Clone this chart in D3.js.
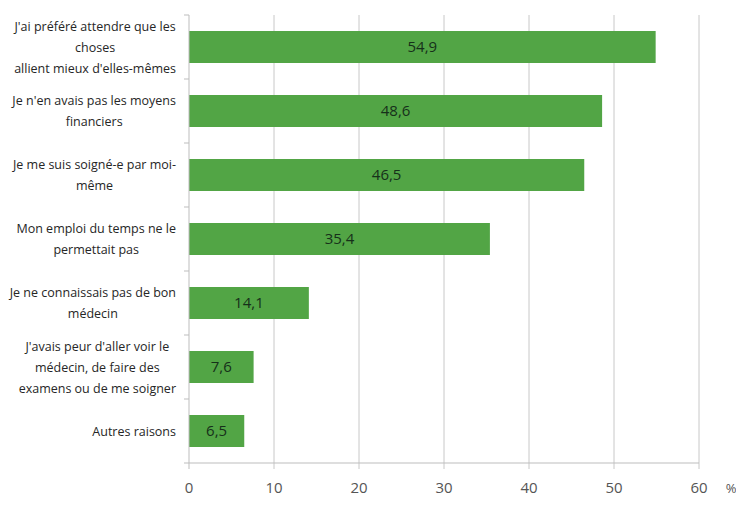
<!DOCTYPE html>
<html><head><meta charset="utf-8">
<script src="https://cdn.jsdelivr.net/npm/d3@7"></script>
<style>body{margin:0;background:#fff}svg{display:block}</style>
</head><body>
<script>
const categories = [
  ["J'ai préféré attendre que les", "choses", "allient mieux d'elles-mêmes"],
  ["Je n'en avais pas les moyens", "financiers"],
  ["Je me suis soigné-e par moi-", "même"],
  ["Mon emploi du temps ne le", "permettait pas"],
  ["Je ne connaissais pas de bon", "médecin"],
  ["J'avais peur d'aller voir le", "médecin, de faire des", "examens ou de me soigner"],
  ["Autres raisons"]
];
const values = [54.9, 48.6, 46.5, 35.4, 14.1, 7.6, 6.5];
const valueLabels = ["54,9", "48,6", "46,5", "35,4", "14,1", "7,6", "6,5"];
const xTicks = [0, 10, 20, 30, 40, 50, 60];

const W = 736, H = 513;
const m = {left: 189, right: 37, top: 15, bottom: 50};
const font = "'Open Sans', 'Liberation Sans', sans-serif";

const svg = d3.select("body").append("svg").attr("width", W).attr("height", H);

const x = d3.scaleLinear().domain([0, 60]).range([m.left, W - m.right]);
const y = d3.scaleBand().domain(d3.range(categories.length)).range([m.top, H - m.bottom]).paddingInner(0.5).paddingOuter(0.25);
const yOuter = d3.scaleBand().domain(d3.range(categories.length)).range([m.top, H - m.bottom]);

// gridlines
svg.append("g").selectAll("line").data(xTicks.slice(1)).join("line")
  .attr("x1", d => x(d)).attr("x2", d => x(d))
  .attr("y1", m.top).attr("y2", H - m.bottom + 6)
  .attr("stroke", "#c8c8c8").attr("stroke-width", 1);

// bars
svg.append("g").selectAll("rect").data(values).join("rect")
  .attr("x", x(0)).attr("y", (d, i) => y(i))
  .attr("width", d => x(d) - x(0)).attr("height", y.bandwidth())
  .attr("fill", "#52a545");

// value labels
svg.append("g").selectAll("text").data(values).join("text")
  .attr("x", d => (x(0) + x(d)) / 2).attr("y", (d, i) => y(i) + y.bandwidth() / 2)
  .attr("dy", "0.36em").attr("text-anchor", "middle")
  .attr("font-family", font).attr("font-size", 15).attr("fill", "#16301a")
  .text((d, i) => valueLabels[i]);

// left axis line + ticks
const ax = svg.append("g").attr("stroke", "#bdbdbd").attr("stroke-width", 1);
ax.append("line").attr("x1", x(0)).attr("x2", x(0)).attr("y1", m.top).attr("y2", H - m.bottom);
ax.selectAll("line.t").data(d3.range(categories.length + 1)).join("line").attr("class", "t")
  .attr("x1", x(0) - 5).attr("x2", x(0))
  .attr("y1", i => m.top + i * yOuter.step()).attr("y2", i => m.top + i * yOuter.step());
// bottom axis line
ax.append("line").attr("x1", x(0)).attr("x2", x(60)).attr("y1", H - m.bottom).attr("y2", H - m.bottom);
ax.append("line").attr("x1", x(0)).attr("x2", x(0)).attr("y1", H - m.bottom).attr("y2", H - m.bottom + 6);

// x tick labels
svg.append("g").selectAll("text").data(xTicks).join("text")
  .attr("x", d => x(d)).attr("y", H - m.bottom + 30)
  .attr("text-anchor", "middle").attr("font-family", font).attr("font-size", 15).attr("fill", "#555")
  .text(d => d);
svg.append("text").attr("x", 731).attr("y", H - m.bottom + 30).attr("text-anchor", "middle")
  .attr("font-family", font).attr("font-size", 13).attr("fill", "#555").text("%");

// category labels
const lh = 21;
const rightEdge = 176;
categories.forEach((lines, i) => {
  const cy = y(i) + y.bandwidth() / 2;
  const g = svg.append("g");
  const t = g.append("text").attr("font-family", font).attr("font-size", 12.5).attr("fill", "#262626")
    .attr("text-anchor", "middle");
  const n = lines.length;
  lines.forEach((s, k) => {
    t.append("tspan").attr("y", cy + (k - (n - 1) / 2) * lh).attr("dy", "0.36em").text(s);
  });
  const w = d3.max(t.selectAll("tspan").nodes(), nd => nd.getComputedTextLength());
  t.selectAll("tspan").attr("x", rightEdge - w / 2);
});
</script>
</body></html>
